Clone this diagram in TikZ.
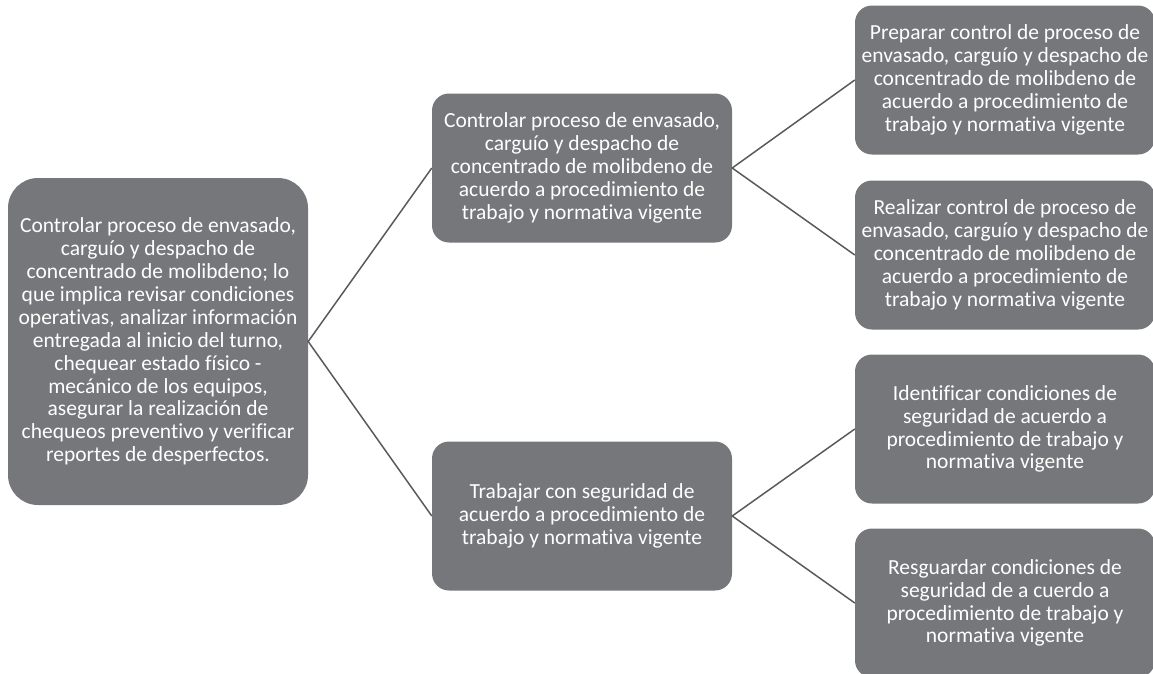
\documentclass[tikz,border=0pt]{standalone}
\usepackage{fontspec}
\setmainfont[Ligatures=NoCommon]{Carlito}
\definecolor{boxgray}{HTML}{76777B}
\definecolor{linegray}{HTML}{5A5A5A}
\begin{document}
\begin{tikzpicture}[x=1pt,y=-1pt,
  box/.style={fill=boxgray, draw=none, text=white, align=center, inner sep=0pt,
    font=\fontsize{21.5}{22.9}\selectfont, rounded corners=17pt},
  smallbox/.style={box, minimum width=300pt, minimum height=149pt},
  conn/.style={draw=linegray, line width=1.5pt}]
\useasboundingbox (0,0) rectangle (1153,673);
\begin{scope}
\clip (0,0) rectangle (1153,673);
\node[box, minimum width=300pt, minimum height=327pt, rounded corners=30pt] (L) at (158,341.5)
  {Controlar proceso de envasado,\\carguío y despacho de\\concentrado de molibdeno; lo\\que implica revisar condiciones\\operativas, analizar información\\entregada al inicio del turno,\\chequear estado físico -\\mecánico de los equipos,\\asegurar la realización de\\chequeos preventivo y verificar\\reportes de desperfectos.};
\node[smallbox] (M1) at (582,168)
  {Controlar proceso de envasado,\\carguío y despacho de\\concentrado de molibdeno de\\acuerdo a procedimiento de\\trabajo y normativa vigente};
\node[smallbox] (M2) at (582,516)
  {Trabajar con seguridad de\\acuerdo a procedimiento de\\trabajo y normativa vigente};
\node[smallbox] (R1) at (1005,80)
  {Preparar control de proceso de\\envasado, carguío y despacho de\\concentrado de molibdeno de\\acuerdo a procedimiento de\\trabajo y normativa vigente};
\node[smallbox] (R2) at (1005,255)
  {Realizar control de proceso de\\envasado, carguío y despacho de\\concentrado de molibdeno de\\acuerdo a procedimiento de\\trabajo y normativa vigente};
\node[smallbox] (R3) at (1005,429)
  {Identificar condiciones de\\seguridad de acuerdo a\\procedimiento de trabajo y\\normativa vigente};
\node[smallbox] (R4) at (1005,603)
  {Resguardar condiciones de\\seguridad de a cuerdo a\\procedimiento de trabajo y\\normativa vigente};
\draw[conn] (M1.west) -- (L.east) -- (M2.west);
\draw[conn] (R1.west) -- (M1.east) -- (R2.west);
\draw[conn] (R3.west) -- (M2.east) -- (R4.west);
\end{scope}
\end{tikzpicture}
\end{document}
